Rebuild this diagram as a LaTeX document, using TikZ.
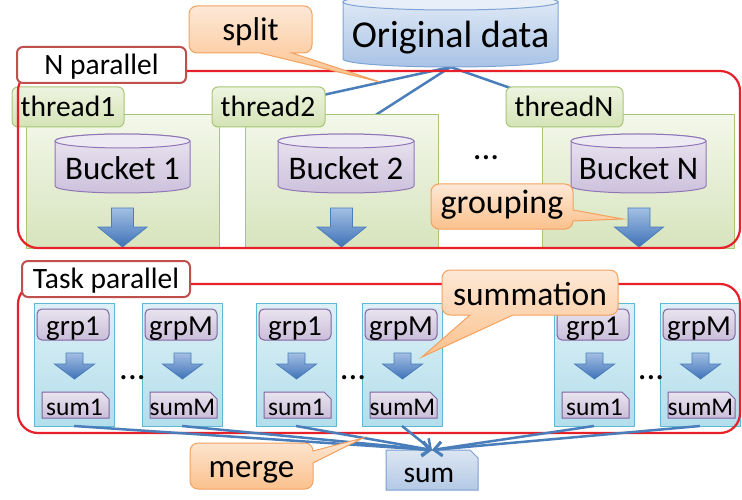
\documentclass[tikz,border=0pt]{standalone}
\usepackage{fontspec}
\setmainfont{Carlito}
\usetikzlibrary{arrows.meta}
\pgfdeclarelayer{back}
\pgfsetlayers{back,main}

\definecolor{odTop}{HTML}{E3ECF7}
\definecolor{odBot}{HTML}{A9C3E6}
\definecolor{odCap}{HTML}{E8EFF9}
\definecolor{odLine}{HTML}{7EA3D4}
\definecolor{bkTop}{HTML}{EAE5F0}
\definecolor{bkBot}{HTML}{CDC1DC}
\definecolor{bkCap}{HTML}{EEEAF3}
\definecolor{bkLine}{HTML}{8F77B5}
\definecolor{gTop}{HTML}{F3F7EA}
\definecolor{gBot}{HTML}{D7E4BD}
\definecolor{gLine}{HTML}{A9C675}
\definecolor{glTop}{HTML}{EEF4E0}
\definecolor{glBot}{HTML}{D4E3B6}
\definecolor{aTop}{HTML}{A3BFE3}
\definecolor{aBot}{HTML}{3F72B8}
\definecolor{aLine}{HTML}{4A7EBB}
\definecolor{frameRed}{HTML}{E8202A}
\definecolor{labelRed}{HTML}{C0504D}
\definecolor{cTop}{HTML}{DDF0F6}
\definecolor{cBot}{HTML}{B3DEEB}
\definecolor{cLine}{HTML}{5EB9D3}
\definecolor{pTop}{HTML}{E9E4EF}
\definecolor{pBot}{HTML}{CABED9}
\definecolor{pLine}{HTML}{8064A2}
\definecolor{sTop}{HTML}{DCE6F2}
\definecolor{sBot}{HTML}{B4C9E6}
\definecolor{sLine}{HTML}{7A9FD2}
\definecolor{oTop}{HTML}{FDE8D6}
\definecolor{oBot}{HTML}{FBC18C}
\definecolor{oLine}{HTML}{F4A15F}
\definecolor{lineBlue}{HTML}{4A7EBB}

\tikzset{
  box/.style={inner sep=0pt, outer sep=0pt},
  txt/.style={anchor=base, inner sep=0pt, outer sep=0pt, text=black},
  fs/.style={font=\fontsize{#1}{#1}\selectfont},
  od body/.style={top color=odTop, bottom color=odBot, draw=odLine, line width=1pt},
  od cap/.style={fill=odCap, draw=odLine, line width=1pt},
  bk body/.style={top color=bkTop, bottom color=bkBot, draw=bkLine, line width=1pt},
  bk cap/.style={fill=bkCap, draw=bkLine, line width=1pt},
  panel/.style={box, top color=gTop, bottom color=gBot, draw=gLine, line width=1pt},
  tlabel/.style={box, rounded corners=6pt, top color=glTop, bottom color=glBot, draw=gLine, line width=1pt},
  blockarrow/.style={top color=aTop, bottom color=aBot, draw=aLine, line width=0.8pt},
  frame/.style={draw=frameRed, line width=2.2pt, rounded corners=20pt},
  plabel/.style={box, fill=white, draw=labelRed, line width=2pt, rounded corners=6pt},
  taskbox/.style={box, top color=cTop, bottom color=cBot, draw=cLine, line width=1pt},
  grpbox/.style={box, rounded corners=5pt, top color=pTop, bottom color=pBot, draw=pLine, line width=1pt},
  snip/.style={top color=pTop, bottom color=pBot, draw=pLine, line width=1pt},
  sumsnip/.style={top color=sTop, bottom color=sBot, draw=sLine, line width=1pt},
  callout/.style={top color=oTop, bottom color=oBot, draw=oLine, line width=1pt},
  feed/.style={draw=lineBlue, line width=2.5pt},
  merge/.style={draw=lineBlue, line width=2.5pt, -{Straight Barb[length=8pt,width=14pt]}},
}

% cylinder: name, left x, right x, top centre y, bottom centre y, y radius, colour kind
\newcommand\drum[7]{%
  \path[#7 body] (#2,#4) -- (#2,#5)
     arc[start angle=180,end angle=360,x radius={(#3-#2)/2},y radius=#6]
     -- (#3,#4)
     arc[start angle=0,end angle=180,x radius={(#3-#2)/2},y radius=#6] -- cycle;
  \path[#7 cap] ({(#2+#3)/2},#4) ellipse[x radius={(#3-#2)/2},y radius=#6];
  \node[box, minimum width={#3-#2}, minimum height={#4-#5+2*#6}] (#1)
     at ({(#2+#3)/2},{(#4+#5)/2}) {};
}

% block arrow pointing down: centre x, top y, neck y, tip y, half shaft, half head
\newcommand\barrow[6]{%
  \path[blockarrow] ({#1-#5},#2) -- ({#1+#5},#2) -- ({#1+#5},#3) -- ({#1+#6},#3)
     -- (#1,#4) -- ({#1-#6},#3) -- ({#1-#5},#3) -- cycle;
}

% one summation task: id, left x, group text, sum text
\newcommand\taskcol[4]{%
  \node[taskbox, minimum width=80, minimum height=123] (task#1) at ({#2+40},134.5) {};
  \node[grpbox, minimum width=72, minimum height=31] (grp#1) at ({#2+39},174.5) {};
  \node[txt, fs=29] (grptext#1) at ({#2+39},164) {#3};
  \barrow{#2+40.5}{146}{135}{120}{8.5}{20}
  \node[box, minimum width=67, minimum height=26] (sum#1) at ({#2+41.5},94) {};
  \path[snip] (sum#1.south west) -- (sum#1.north west) -- ([xshift=-7pt]sum#1.north east)
     -- ([yshift=-7pt]sum#1.north east) -- (sum#1.south east) -- cycle;
  \node[txt, fs=25.5] (sumtext#1) at ({#2+40.5},83.5) {#4};
}

\begin{document}
\begin{tikzpicture}[x=1pt,y=1pt]
\useasboundingbox (0,0) rectangle (742,499);

% source data
\drum{orig}{343}{558}{497}{440}{8}{od}
\node[txt, fs=38] (origtext) at (450.5,451) {Original data};

% thread panels
\node[panel, minimum width=193, minimum height=133] (p1) at (122.5,317.5) {};
\node[panel, minimum width=193, minimum height=133] (p2) at (341.5,317.5) {};
\node[panel, minimum width=192, minimum height=133] (pN) at (638,317.5) {};

\node[tlabel, minimum width=112, minimum height=40] (t1lab) at (68,392) {};
\node[txt, fs=29.5] (t1text) at (68,382) {thread1};
\node[tlabel, minimum width=113, minimum height=40] (t2lab) at (268.5,392) {};
\node[txt, fs=29.5] (t2text) at (268,382) {thread2};
\node[tlabel, minimum width=117, minimum height=40] (tNlab) at (564.5,392) {};
\node[txt, fs=29.5] (tNtext) at (564,382) {threadN};

\drum{bk1}{55}{190}{358}{313}{7}{bk}
\node[txt, fs=33] (bk1text) at (122.5,319) {Bucket 1};
\drum{bk2}{278}{414}{358}{313}{7}{bk}
\node[txt, fs=33] (bk2text) at (346,319) {Bucket 2};
\drum{bkN}{571}{706}{358}{313}{7}{bk}
\node[txt, fs=33] (bkNtext) at (638.5,319) {Bucket N};

\barrow{122.5}{291}{272}{252}{11}{24.5}
\barrow{341.5}{291}{272}{252}{11}{24.5}
\barrow{639}{291}{272}{252}{11}{24.5}

\node[txt, fs=35] (tdots) at (486,339) {...};

\begin{pgfonlayer}{back}
  \draw[feed] (orig.south) -- (t2lab.center);
  \draw[feed] (orig.south) -- (bk2.north);
  \draw[feed] (orig.south) -- (tNlab.center);
\end{pgfonlayer}

% summation tasks
\taskcol{1}{34}{grp1}{sum1}
\taskcol{2}{142}{grpM}{sumM}
\taskcol{3}{256}{grp1}{sum1}
\taskcol{4}{362}{grpM}{sumM}
\taskcol{5}{554}{grp1}{sum1}
\taskcol{6}{660}{grpM}{sumM}

\node[txt, fs=35] (sdots1) at (132.5,120) {...};
\node[txt, fs=35] (sdots2) at (353,120) {...};
\node[txt, fs=35] (sdots3) at (651,120) {...};

% parallel regions
\draw[frame] (18,251) rectangle (740,428);
\draw[frame] (18,66) rectangle (740,215);
\node[plabel, minimum width=169, minimum height=36] (nparbox) at (101.5,434) {};
\node[txt, fs=29.5] (npartext) at (101.5,424) {N parallel};
\node[plabel, minimum width=168, minimum height=36] (tparbox) at (106,220) {};
\node[txt, fs=29.5] (tpartext) at (106,211) {Task parallel};

% final result
\node[box, minimum width=92, minimum height=40] (sum) at (432,29) {};
\path[sumsnip] (sum.south west) -- (sum.north west) -- ([xshift=-8pt]sum.north east)
   -- ([yshift=-8pt]sum.north east) -- (sum.south east) -- cycle;
\node[txt, fs=29.5] (sumtext) at (429,17) {sum};

\foreach \k in {1,...,6} \draw[merge] (task\k.south) -- (sum.north);

% callouts
\path[callout] (380,417) -- (292,446) -- (304,446) arc[start angle=270,end angle=360,radius=8]
   -- (312,485) arc[start angle=0,end angle=90,radius=8]
   -- (197,493) arc[start angle=90,end angle=180,radius=8]
   -- (189,454) arc[start angle=180,end angle=270,radius=8]
   -- (260,446) -- cycle;
\node[txt, fs=33] (splittext) at (250.5,458) {split};

\path[callout] (623,280) -- (573,289) -- (573,307) arc[start angle=0,end angle=90,radius=8]
   -- (439,315) arc[start angle=90,end angle=180,radius=8]
   -- (431,278) arc[start angle=180,end angle=270,radius=8]
   -- (565,270) arc[start angle=270,end angle=360,radius=8] -- cycle;
\node[txt, fs=34] (grouptext) at (502,286) {grouping};

\path[callout] (422,142) -- (513,184) -- (610,184) arc[start angle=270,end angle=360,radius=8]
   -- (618,221) arc[start angle=0,end angle=90,radius=8]
   -- (450,229) arc[start angle=90,end angle=180,radius=8]
   -- (442,192) arc[start angle=180,end angle=270,radius=8]
   -- (470,184) -- cycle;
\node[txt, fs=33.5] (summtext) at (530,194) {summation};

\path[callout] (363,61) -- (313,48) arc[start angle=0,end angle=90,radius=8]
   -- (198,56) arc[start angle=90,end angle=180,radius=8]
   -- (190,18) arc[start angle=180,end angle=270,radius=8]
   -- (305,10) arc[start angle=270,end angle=360,radius=8]
   -- (313,36) -- cycle;
\node[txt, fs=33] (mergetext) at (251.5,22) {merge};
\end{tikzpicture}
\end{document}
